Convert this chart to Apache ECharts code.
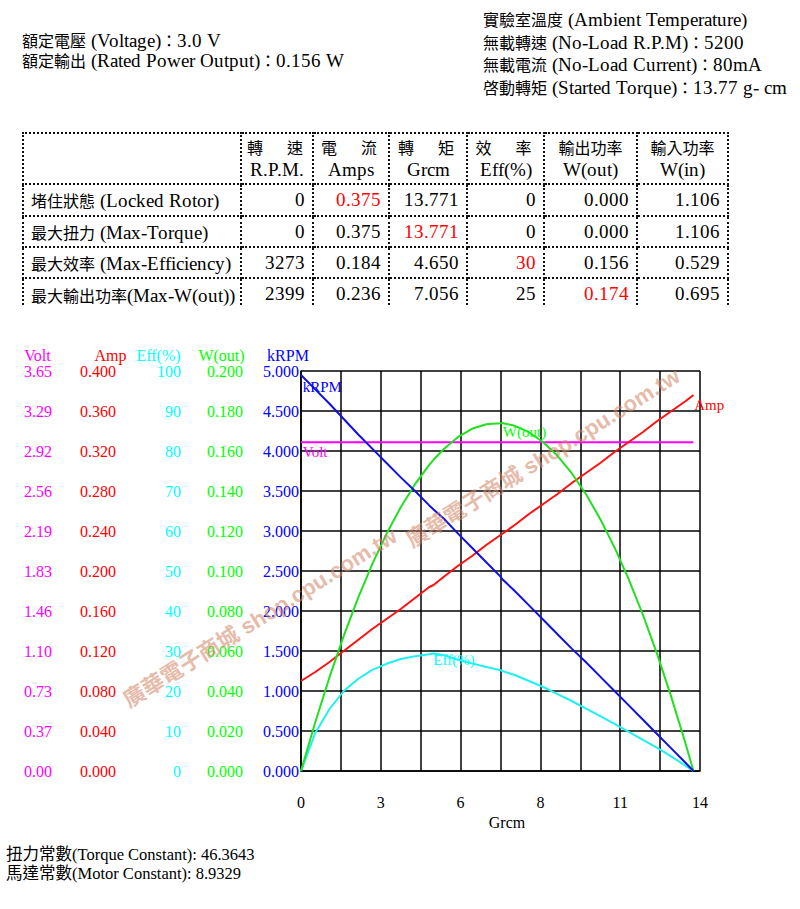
<!DOCTYPE html>
<html>
<head>
<meta charset="utf-8">
<script src="https://cdn.jsdelivr.net/npm/echarts@6.0.0/dist/echarts.min.js"></script>
<style>
@font-face{font-family:"LatinWide";src:local("Liberation Serif"),local("LiberationSerif");size-adjust:118%;unicode-range:U+0000-024F;}
html,body{margin:0;padding:0;background:#fff;}
body{width:800px;height:909px;position:relative;overflow:hidden;font-family:"LatinWide","Liberation Serif","Noto Sans CJK TC",serif;color:#000;font-size:16px;}
#chart{position:absolute;left:0;top:0;width:800px;height:909px;z-index:0;}
.txt{position:absolute;white-space:nowrap;z-index:2;}
#specL{left:22px;top:31px;line-height:20px;}
#specR{left:483px;top:9px;line-height:22.7px;}
#footer{left:6px;top:845px;line-height:19px;font-family:"Liberation Serif","Noto Sans CJK TC",serif;font-size:16.5px;}
#tableWrap{position:absolute;left:22px;top:132px;width:708px;height:174px;overflow:hidden;z-index:2;}
table{border-collapse:collapse;table-layout:fixed;font-size:16px;}
td{border:2px dotted #111;padding:0;white-space:nowrap;overflow:visible;}
td.lab{text-align:left;padding-left:7px;}
td.num{text-align:right;padding-right:7px;}
td.hd{text-align:center;line-height:22px;vertical-align:middle;}
.red{color:#ff0000;}
</style>
</head>
<body>
<div id="chart"></div>
<div id="specL" class="txt"></div>
<div id="specR" class="txt"></div>
<div id="tableWrap"></div>
<div id="footer" class="txt"></div>
<script>
// ---------- text / table data ----------
const specLeft = ['額定電壓 (Voltage)：3.0 V', '額定輸出 (Rated Power Output)：0.156 W'];
const specRight = ['實驗室溫度 (Ambient Temperature)', '無載轉速 (No-Load R.P.M)：5200', '無載電流 (No-Load Current)：80mA', '啓動轉矩 (Started Torque)：13.77 g- cm'];
const footerLines = ['扭力常數(Torque Constant): 46.3643', '馬達常數(Motor Constant): 8.9329'];

const colHeadTop = ['轉　速', '電　流', '轉　矩', '效　率', '輸出功率', '輸入功率'];
const colHeadBottom = ['R.P.M.', 'Amps', 'Grcm', 'Eff(%)', 'W(out)', 'W(in)'];
const rowLabels = ['堵住狀態 (Locked Rotor)', '最大扭力 (Max-Torque)', '最大效率 (Max-Efficiency)', '最大輸出功率(Max-W(out))'];
const rpmVals = ['0', '0', '3273', '2399'];
const ampVals = ['0.375', '0.375', '0.184', '0.236'];
const grcmVals = ['13.771', '13.771', '4.650', '7.056'];
const effVals = ['0', '0', '30', '25'];
const woutVals = ['0.000', '0.000', '0.156', '0.174'];
const winVals = ['1.106', '1.106', '0.529', '0.695'];
const redCells = [[0, 1], [1, 2], [2, 3], [3, 4]]; // [row, data column: 0 rpm .. 5 win]

// ---------- chart data ----------
const torque = [0,0.5,1,1.5,2,2.5,3,3.5,4,4.5,4.65,5,5.5,6,6.5,7,7.056,7.5,8,8.5,9,9.5,10,10.5,11,11.5,12,12.5,13,13.5,13.77];
const kRPM = [4.95,4.77,4.59,4.40,4.21,4.03,3.85,3.67,3.50,3.32,3.27,3.16,2.97,2.79,2.61,2.43,2.40,2.25,2.07,1.89,1.71,1.53,1.36,1.18,1.00,0.82,0.64,0.46,0.28,0.10,0];
const amp = [0.090,0.099,0.109,0.120,0.131,0.142,0.152,0.162,0.173,0.184,0.186,0.194,0.205,0.215,0.226,0.236,0.237,0.246,0.257,0.267,0.277,0.288,0.298,0.308,0.319,0.329,0.339,0.350,0.360,0.370,0.376];
const eff = [0,9.5,15.5,20.0,23.0,25.3,26.8,28.0,28.7,29.2,29.4,29.0,27.8,26.9,26.0,25.2,25.0,24.0,22.5,21.0,19.2,17.5,15.6,13.7,11.8,9.8,7.8,5.8,3.6,1.3,0];
const wout = [0,0.0244,0.0469,0.0676,0.0864,0.1034,0.1186,0.1319,0.1434,0.1531,0.1556,0.1609,0.1669,0.1711,0.1734,0.1739,0.1740,0.1726,0.1694,0.1644,0.1576,0.1489,0.1384,0.1260,0.1118,0.0958,0.0780,0.0583,0.0367,0.0134,0];
const voltTorque = [0, 13.77];
const volt = [3.0, 3.0];

const xTicks = ['0','','3','','6','','8','','11','','14'];
const rpmTicks = ['0.000','0.500','1.000','1.500','2.000','2.500','3.000','3.500','4.000','4.500','5.000'];
const woutTicks = ['0.000','0.020','0.040','0.060','0.080','0.100','0.120','0.140','0.160','0.180','0.200'];
const effTicks = ['0','10','20','30','40','50','60','70','80','90','100'];
const ampTicks = ['0.000','0.040','0.080','0.120','0.160','0.200','0.240','0.280','0.320','0.360','0.400'];
const voltTicks = ['0.00','0.37','0.73','1.10','1.46','1.83','2.19','2.56','2.92','3.29','3.65'];
const watermark = '廣華電子商城 shop.cpu.com.tw';

// ---------- HTML text ----------
document.getElementById('specL').innerHTML = specLeft.join('<br>');
document.getElementById('specR').innerHTML = specRight.join('<br>');
document.getElementById('footer').innerHTML = footerLines.join('<br>');

(function buildTable(){
  const widths = [218, 72, 76, 78, 77, 93, 91];
  const heights = [51, 32, 31, 31, 34];
  const cols = [rpmVals, ampVals, grcmVals, effVals, woutVals, winVals];
  let h = '<table><colgroup>' + widths.map(w => '<col style="width:' + w + 'px">').join('') + '</colgroup>';
  h += '<tr style="height:' + heights[0] + 'px"><td></td>';
  for (let c = 0; c < colHeadTop.length; c++) {
    const ls = colHeadTop[c].indexOf('　') >= 0 ? 'letter-spacing:4px;' : '';
    h += '<td class="hd"><span style="' + ls + '">' + colHeadTop[c] + '</span><br>' + colHeadBottom[c] + '</td>';
  }
  h += '</tr>';
  for (let r = 0; r < rowLabels.length; r++) {
    const last = r === rowLabels.length - 1;
    h += '<tr style="height:' + heights[r + 1] + 'px"><td class="lab"' + (last ? ' style="vertical-align:top;padding-top:4px"' : '') + '>' + rowLabels[r] + '</td>';
    for (let c = 0; c < cols.length; c++) {
      const red = redCells.some(rc => rc[0] === r && rc[1] === c);
      h += '<td class="num' + (red ? ' red' : '') + '"' + (last ? ' style="vertical-align:top;padding-top:4px"' : '') + '>' + cols[c][r] + '</td>';
    }
    h += '</tr>';
  }
  h += '</table>';
  document.getElementById('tableWrap').innerHTML = h;
})();

// ---------- chart ----------
const FF = '"Liberation Serif", "Times New Roman", serif';
const C = {volt:'#ff00ff', amp:'#ff0000', eff:'#00ffff', wout:'#00ff00', rpm:'#0000ff'};
const LINE = {volt:'#ff00ff', amp:'#ff1010', eff:'#20f0f0', wout:'#20e020', rpm:'#1010e0'};

function yAxis(offset, max, interval, ticks, color, name, margin, namePadRight, main) {
  return {
    type:'value', position:'left', offset:offset, min:0, max:max, interval:interval,
    name:name, nameLocation:'end', nameGap:8,
    nameTextStyle:{color:color, fontFamily:FF, fontSize:16, padding:[0, namePadRight, 0, 0]},
    axisLine:{show:!!main, onZero:false, lineStyle:{color:'#000', width:1.5}},
    axisTick:{show:false},
    splitLine:{show:!!main, lineStyle:{color:'#000', width:1.5}},
    axisLabel:{color:color, fontFamily:FF, fontSize:16, margin:margin,
      formatter:function(v){ return ticks[Math.round(v / interval)]; }}
  };
}

function colorKey(n){ return {Volt:'volt', Amp:'amp', 'Eff(%)':'eff', 'W(out)':'wout', kRPM:'rpm'}[n]; }

function lineSeries(name, xs, ys, yIdx, color, labelIdx, labelPos) {
  return {
    name:name, type:'line', xAxisIndex:0, yAxisIndex:yIdx, silent:true,
    showSymbol:true, symbol:'none', animation:false,
    lineStyle:{color:color, width:2},
    itemStyle:{color:color},
    data: xs.map(function(x, i){
      if (i === labelIdx) {
        return {value:[x, ys[i]], symbol:'circle', symbolSize:0.5,
          itemStyle:{color:'rgba(0,0,0,0)'},
          label:{show:true, formatter:name, position:labelPos, color:C[colorKey(name)],
            fontFamily:FF, fontSize:15, align:'left', verticalAlign:'top'}};
      }
      return [x, ys[i]];
    })
  };
}

const wmStyle = {text:watermark, fill:'rgba(210,135,105,0.58)', fontSize:22, fontWeight:'bold',
  fontFamily:'"Liberation Sans", "Noto Sans CJK TC", sans-serif', textAlign:'center', textVerticalAlign:'middle'};

const chart = echarts.init(document.getElementById('chart'), null, {renderer:'svg', width:800, height:909});
chart.setOption({
  animation:false,
  backgroundColor:'transparent',
  grid:{left:301, top:371, width:399, height:400, containLabel:false, outerBoundsMode:'none'},
  xAxis:{
    type:'value', min:0, max:14, interval:1.4,
    name:'Grcm', nameLocation:'middle', nameGap:43,
    nameTextStyle:{color:'#000', fontFamily:FF, fontSize:16, padding:[0,0,0,13]},
    axisLine:{show:true, onZero:false, lineStyle:{color:'#000', width:1.5}},
    axisTick:{show:false},
    splitLine:{show:true, lineStyle:{color:'#000', width:1.5}},
    axisLabel:{color:'#000', fontFamily:FF, fontSize:16, margin:23, showMaxLabel:true, showMinLabel:true,
      formatter:function(v){ return xTicks[Math.round(v / 1.4)]; }}
  },
  yAxis:[
    yAxis(0, 5, 0.5, rpmTicks, C.rpm, 'kRPM', 2, 26, true),
    yAxis(57, 0.2, 0.02, woutTicks, C.wout, 'W(out)', 1, 45, false),
    yAxis(120, 100, 10, effTicks, C.eff, 'Eff(%)', 0, 45, false),
    yAxis(185, 0.4, 0.04, ampTicks, C.amp, 'Amp', 0, 11, false),
    yAxis(249, 3.65, 0.365, voltTicks, C.volt, 'Volt', 0, 29, false)
  ],
  series:[
    lineSeries('Volt', voltTorque, volt, 4, LINE.volt, 0, [2, 3]),
    lineSeries('Amp', torque, amp, 3, LINE.amp, torque.length - 1, [1, 3]),
    lineSeries('Eff(%)', torque, eff, 2, LINE.eff, 10, [0, -1]),
    lineSeries('W(out)', torque, wout, 1, LINE.wout, 16, [1, 2]),
    lineSeries('kRPM', torque, kRPM, 0, LINE.rpm, 0, [2, 5])
  ],
  graphic:[
    {type:'text', x:260, y:618, rotation:32 * Math.PI / 180, z:100, silent:true, style:wmStyle},
    {type:'text', x:543, y:458, rotation:32 * Math.PI / 180, z:100, silent:true, style:wmStyle}
  ]
});
</script>
</body>
</html>
